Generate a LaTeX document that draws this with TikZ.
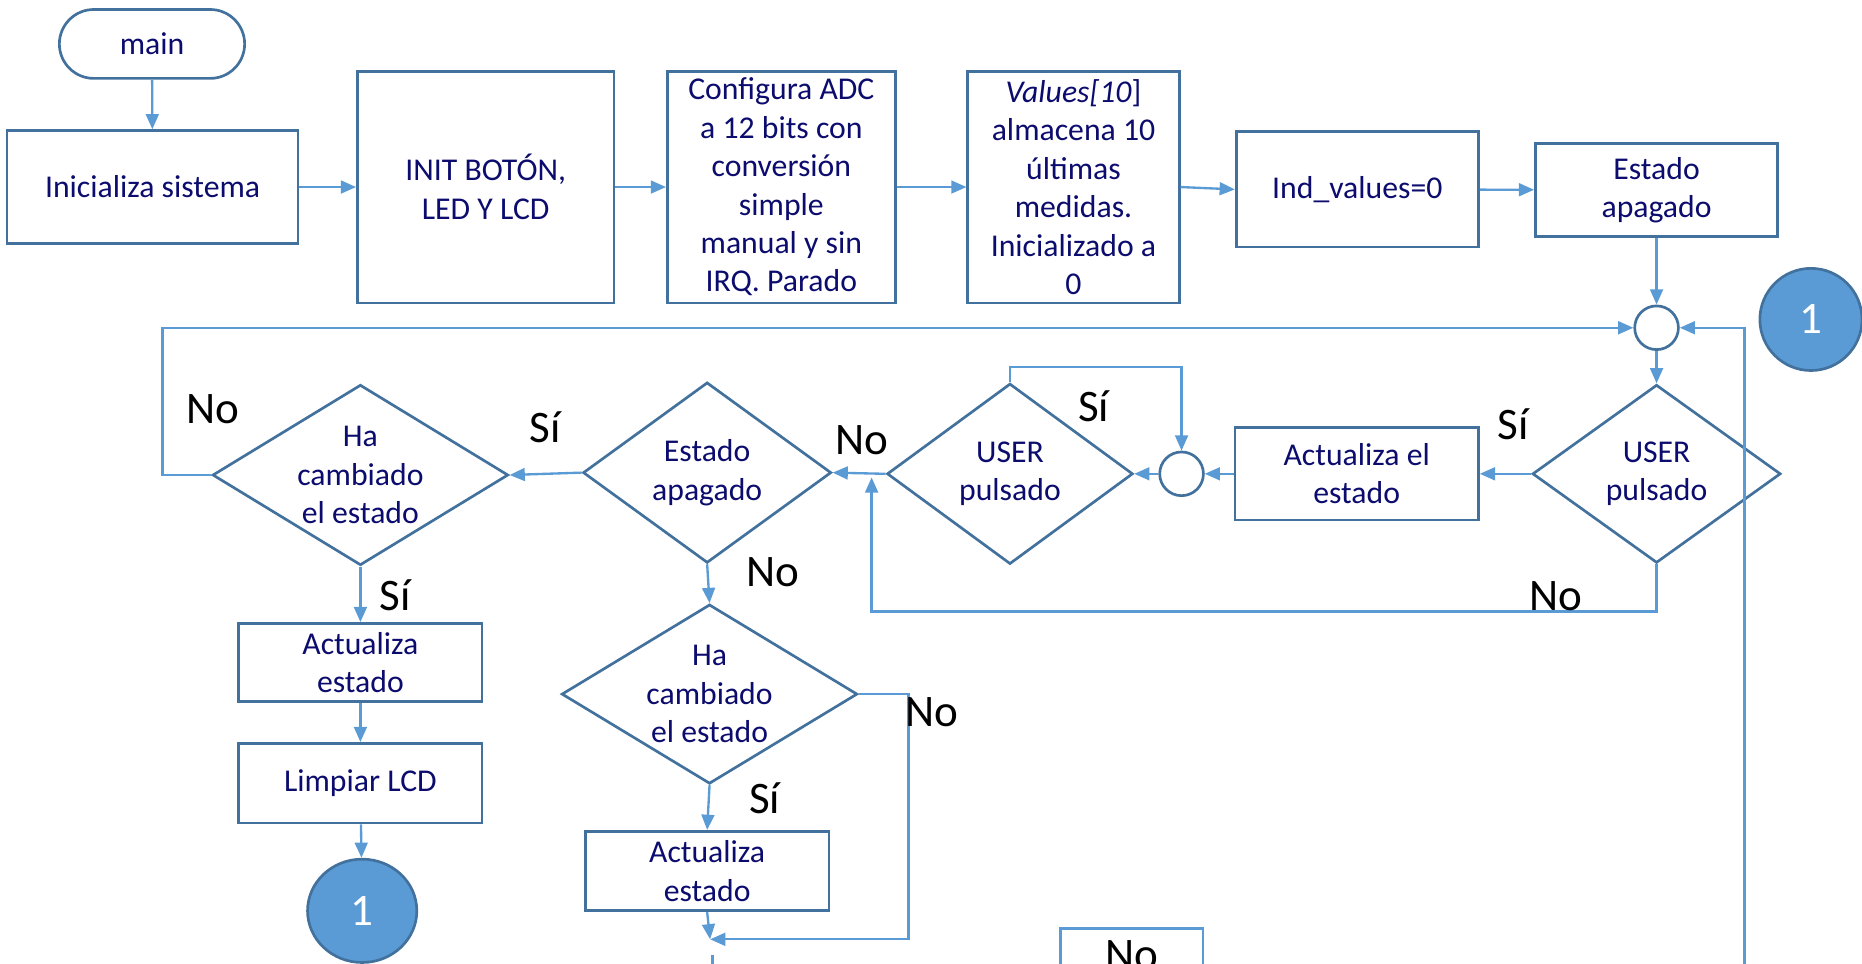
\documentclass[tikz,border=0pt]{standalone}
\usepackage{fontspec}
\setmainfont{Carlito}
\usepackage{tikz}
\usetikzlibrary{arrows, arrows.meta}
\usetikzlibrary{shapes.geometric}
\definecolor{boxblue}{RGB}{65,113,156}
\definecolor{linkblue}{RGB}{91,155,213}
\definecolor{txtnavy}{RGB}{12,12,110}
\begin{document}
\begin{tikzpicture}[x=0.025cm,y=-0.025cm]
\tikzstyle{every node}+=[inner sep=0pt]
\tikzstyle{proc}=[draw=boxblue, line width=1.6pt, fill=white, rectangle, align=center, text=txtnavy, font=\fontsize{19}{23}\selectfont]
\tikzstyle{decis}=[draw=boxblue, line width=1.6pt, fill=white, diamond]
\tikzstyle{dtext}=[text=txtnavy, align=center, font=\fontsize{19}{23}\selectfont]
\tikzstyle{joint}=[draw=boxblue, line width=1.6pt, fill=white, circle, minimum size=0.92cm]
\tikzstyle{conn}=[draw=boxblue, line width=1.6pt, fill=linkblue, ellipse, text=white, font=\fontsize{27}{32}\selectfont]
\tikzstyle{flow}=[draw=linkblue, line width=1.4pt, -{Triangle[length=0.32cm,width=0.27cm]}]
\tikzstyle{wire}=[draw=linkblue, line width=1.4pt]
\tikzstyle{lbl}=[anchor=base, font=\fontsize{27}{32}\selectfont]
\useasboundingbox (0,0) rectangle (1568,811);
\clip (0,0) rectangle (1568,811);
\node [proc, rounded corners=0.725cm, minimum width=3.9cm, minimum height=1.45cm] (main) at (128,37) {main};
\node [proc, minimum width=6.125cm, minimum height=2.375cm] (sysinit) at (128.5,157.5) {Inicializa sistema};
\node [proc, minimum width=5.4cm, minimum height=4.875cm] (hwinit) at (409,157.5) {INIT BOTÓN,\\LED Y LCD};
\node [proc, minimum width=4.8cm, minimum height=4.875cm] (adc) at (658,157.5) {Configura ADC\\a 12 bits con\\conversión\\simple\\manual y sin\\IRQ. Parado};
\node [proc, minimum width=4.45cm, minimum height=4.875cm] (vals) at (904,157.5) {\textit{Values[10}]\\almacena 10\\últimas\\medidas.\\Inicializado a\\0};
\node [proc, minimum width=5.1cm, minimum height=2.425cm] (indv) at (1143,159.5) {Ind\_values=0};
\node [proc, minimum width=5.1cm, minimum height=1.95cm] (off) at (1395,160) {Estado\\apagado};
\node [joint] (j1) at (1395,276) {};
\node [conn, minimum width=2.15cm, minimum height=2.15cm] (c1) at (1525,269) {1};
\node [decis, minimum width=5.225cm, minimum height=3.75cm, label={[dtext]center:USER\\pulsado}] (user1) at (1395,399) {};
\node [proc, minimum width=5.125cm, minimum height=1.95cm] (upd1) at (1142.5,399) {Actualiza el\\estado};
\node [joint] (j2) at (995,399) {};
\node [decis, minimum width=5.175cm, minimum height=3.8cm, label={[dtext]center:USER\\pulsado}] (user2) at (850.5,399) {};
\node [decis, minimum width=5.225cm, minimum height=3.8cm, label={[dtext]center:Estado\\apagado}] (isoff) at (595.5,398) {};
\node [decis, minimum width=6.225cm, minimum height=3.8cm, label={[dtext]center:Ha\\cambiado\\el estado}] (chg1) at (303.5,400) {};
\node [proc, minimum width=5.125cm, minimum height=1.65cm] (upd2) at (303.5,558) {Actualiza\\estado};
\node [proc, minimum width=5.125cm, minimum height=1.675cm] (lcd) at (303.5,659.5) {Limpiar LCD};
\node [conn, minimum width=2.3cm, minimum height=2.175cm] (c2) at (305,767) {1};
\node [decis, minimum width=6.225cm, minimum height=3.775cm, label={[dtext]center:Ha\\cambiado\\el estado}] (chg2) at (597.5,584.5) {};
\node [proc, minimum width=5.125cm, minimum height=1.675cm] (upd3) at (595.5,733.5) {Actualiza\\estado};
\node [draw=linkblue, line width=1.4pt, fill=white, anchor=north, minimum width=3cm, inner ysep=0.25cm, text height=0.61cm, text depth=1.5cm, font=\fontsize{27}{32}\selectfont] (nobox) at (953,781) {No};
\coordinate (merge) at (598,791);
\coordinate (nojoin) at (734,402);
\coordinate (nobot) at (734,515);
\coordinate (back) at (1469,830);
\coordinate (contA) at (600,804);
\coordinate (contB) at (600,830);
\draw [flow] (main) -- (sysinit);
\draw [flow] (sysinit) -- (hwinit);
\draw [flow] (hwinit) -- (adc);
\draw [flow] (adc) -- (vals);
\draw [flow] (vals.east) -- (indv.west);
\draw [flow] (indv) -- (off);
\draw [flow] (off) -- (j1);
\draw [flow] (j1) -- (user1);
\draw [flow] (user1.west) -- (upd1.east);
\draw [flow] (upd1) -- (j2);
\draw [flow] (j2) -- (user2.east);
\draw [flow] (user2.north) -- ++(0,-13) -| (j2.north);
\draw [flow] (user2.west) -- (isoff.east);
\draw [flow] (user1.south) |- (nobot) -- (nojoin);
\draw [flow] (isoff.west) -- (chg1.east);
\draw [flow] (chg1.west) -- ++(-41,0) |- (j1.west);
\draw [flow] (back) |- (j1.east);
\draw [flow] (chg1.south) -- (upd2.north);
\draw [flow] (upd2) -- (lcd);
\draw [flow] (lcd) -- (c2);
\draw [flow] (isoff.south) -- (chg2.north);
\draw [flow] (chg2.south) -- (upd3.north);
\draw [flow] (chg2.east) -- ++(42,0) |- (merge);
\draw [flow] (upd3.south) -- (merge);
\draw [wire] (contA) -- (contB);
\node [lbl] (l1) at (179,357) {No};
\node [lbl] (l2) at (459,373) {Sí};
\node [lbl] (l3) at (333,514) {Sí};
\node [lbl] (l4) at (726,383) {No};
\node [lbl] (l5) at (921,355) {Sí};
\node [lbl] (l6) at (651,494) {No};
\node [lbl] (l7) at (1274,370) {Sí};
\node [lbl] (l8) at (1310,514) {No};
\node [lbl] (l9) at (785,612) {No};
\node [lbl] (l10) at (644,685) {Sí};
\end{tikzpicture}
\end{document}
